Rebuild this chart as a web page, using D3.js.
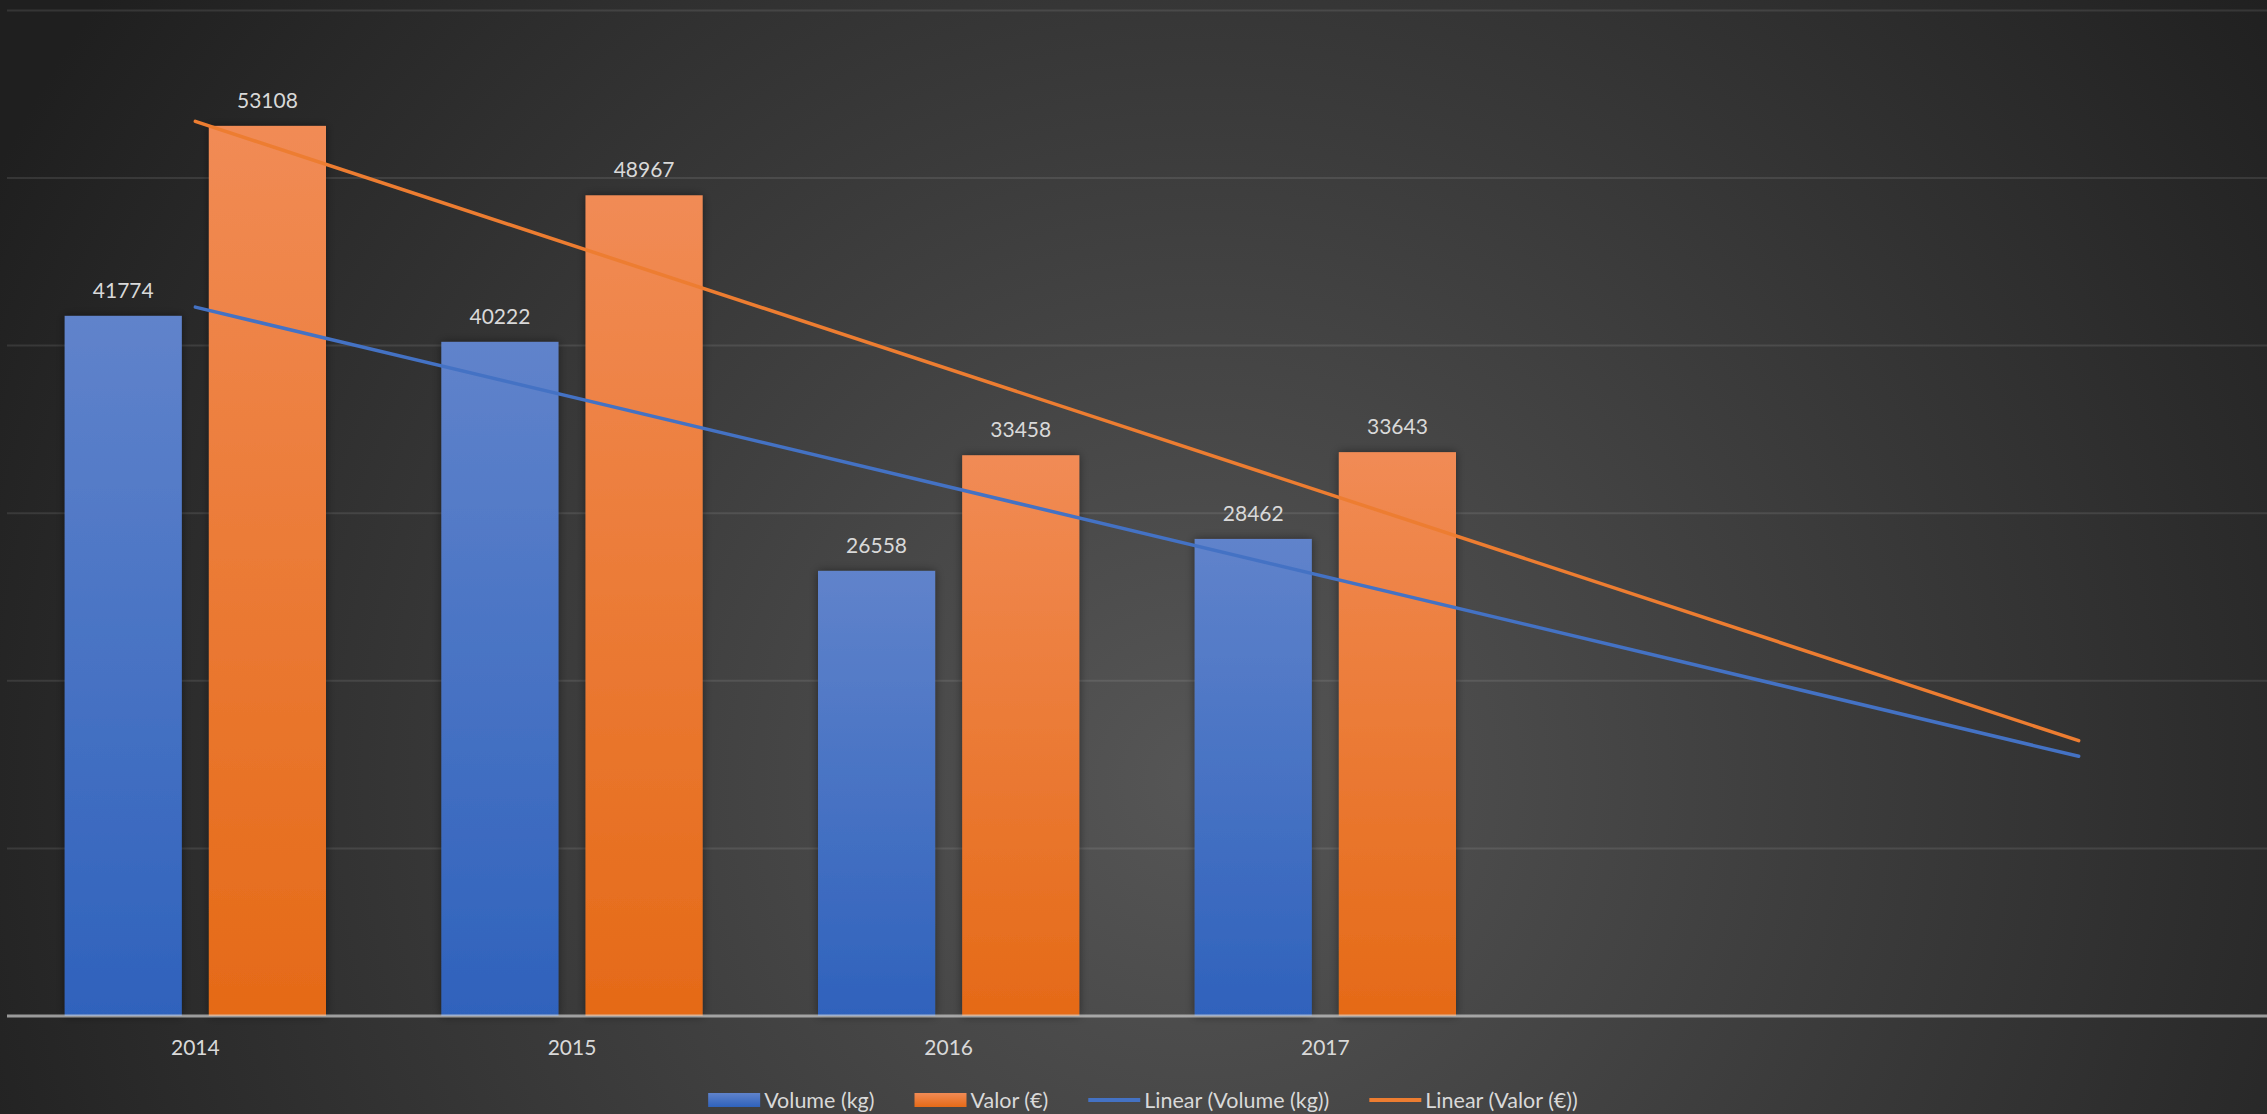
<!DOCTYPE html>
<html>
<head>
<meta charset="utf-8">
<script src="https://cdn.jsdelivr.net/npm/d3@7"></script>
<style>
  body { margin: 0; background: #262626; }
  svg { display: block; }
  text { font-family: Lato, "Open Sans", sans-serif; fill: #d9d9d9; }
</style>
</head>
<body>
<div id="chart"></div>
<script>
// data
const categories = ["2014", "2015", "2016", "2017"];
const volume = [41774, 40222, 26558, 28462];
const valor = [53108, 48967, 33458, 33643];
// linear trendlines, forecast forward 2 periods (start at 2014, end 2 slots after 2017)
const trendVolume = [42294, 15494];
const trendValor = [53380, 16428];
const yTicks = [0, 10000, 20000, 30000, 40000, 50000, 60000];
const seriesNames = ["Volume (kg)", "Valor (€)", "Linear (Volume (kg))", "Linear (Valor (€))"];

const width = 2267, height = 1114;
const slots = 6; // 4 years + 2 forecast slots on the axis

const svg = d3.select("#chart")
    .append("svg")
    .attr("width", width)
    .attr("height", height);

const defs = svg.append("defs");

// background radial gradient
let bg = defs.append("radialGradient")
    .attr("id", "bg")
    .attr("gradientUnits", "userSpaceOnUse")
    .attr("cx", 1200).attr("cy", 780).attr("r", 1350);
bg.append("stop").attr("offset", "0%").attr("stop-color", "#565656");
bg.append("stop").attr("offset", "100%").attr("stop-color", "#1f1f1f");

function barGradient(id, top, bottom) {
    let g = defs.append("linearGradient")
        .attr("id", id)
        .attr("x1", 0).attr("y1", 0).attr("x2", 0).attr("y2", 1);
    g.append("stop").attr("offset", "0%").attr("stop-color", top);
    g.append("stop").attr("offset", "100%").attr("stop-color", bottom);
}
barGradient("gBlue", "#6083cb", "#2f62bc");
barGradient("gOrange", "#f18b55", "#e56a17");

let shadow = defs.append("filter")
    .attr("id", "shadow")
    .attr("x", "-20%").attr("y", "-5%").attr("width", "140%").attr("height", "110%");
shadow.append("feDropShadow")
    .attr("dx", 0).attr("dy", 0)
    .attr("stdDeviation", 5)
    .attr("flood-color", "#000")
    .attr("flood-opacity", 0.45);

svg.append("rect")
    .attr("width", width).attr("height", height)
    .attr("fill", "url(#bg)");

// scales
const xScale = d3.scaleBand()
    .domain(d3.range(slots))
    .range([7, width]);

const xSub = d3.scaleBand()
    .domain(["volume", "valor"])
    .range([0, xScale.bandwidth()])
    .paddingInner(0.1875)
    .paddingOuter(0.4);

const yScale = d3.scaleLinear()
    .domain([0, 60000])
    .range([1016, 10.4]);

// gridlines
svg.append("g")
    .selectAll("line")
    .data(yTicks.slice(1))
    .enter()
    .append("line")
    .attr("x1", 7).attr("x2", width)
    .attr("y1", d => yScale(d)).attr("y2", d => yScale(d))
    .attr("stroke", "rgba(217,217,217,0.12)")
    .attr("stroke-width", 2);

// bars
const series = [
    { key: "volume", values: volume, fill: "url(#gBlue)" },
    { key: "valor", values: valor, fill: "url(#gOrange)" }
];

series.forEach(function (s) {
    svg.append("g")
        .selectAll("rect")
        .data(s.values)
        .enter()
        .append("rect")
        .attr("x", (d, i) => xScale(i) + xSub(s.key))
        .attr("y", d => yScale(d))
        .attr("width", xSub.bandwidth())
        .attr("height", d => yScale(0) - yScale(d))
        .attr("fill", s.fill)
        .attr("filter", "url(#shadow)");
});

// category axis
const xAxis = svg.append("g")
    .attr("transform", "translate(0," + yScale(0) + ")")
    .call(d3.axisBottom(xScale).tickSize(0).tickPadding(24)
        .tickFormat(i => categories[i] || ""));
xAxis.select(".domain").remove();
xAxis.selectAll("text")
    .style("font-size", "21px")
    .attr("fill", "#d9d9d9");

svg.append("line")
    .attr("x1", 7).attr("x2", width)
    .attr("y1", yScale(0)).attr("y2", yScale(0))
    .attr("stroke", "rgba(217,217,217,0.65)")
    .attr("stroke-width", 3);

// trendlines
const line = d3.line()
    .x(d => xScale(d[0]) + xScale.bandwidth() / 2)
    .y(d => yScale(d[1]));

[[trendVolume, "#4472c4"], [trendValor, "#ed7d31"]].forEach(function (t) {
    svg.append("path")
        .datum([[0, t[0][0]], [slots - 1, t[0][1]]])
        .attr("d", line)
        .attr("fill", "none")
        .attr("stroke", t[1])
        .attr("stroke-width", 3.5)
        .attr("stroke-linecap", "round");
});

// data labels
series.forEach(function (s) {
    svg.append("g")
        .selectAll("text")
        .data(s.values)
        .enter()
        .append("text")
        .attr("x", (d, i) => xScale(i) + xSub(s.key) + xSub.bandwidth() / 2)
        .attr("y", d => yScale(d) - 18)
        .attr("text-anchor", "middle")
        .style("font-size", "21px")
        .text(d => d);
});

// legend
const legend = svg.append("g");
let lx = 0;
const legendItems = [
    { name: seriesNames[0], type: "rect", fill: "url(#gBlue)" },
    { name: seriesNames[1], type: "rect", fill: "url(#gOrange)" },
    { name: seriesNames[2], type: "line", fill: "#4472c4" },
    { name: seriesNames[3], type: "line", fill: "#ed7d31" }
];
legendItems.forEach(function (d, i) {
    if (d.type === "rect") {
        legend.append("rect")
            .attr("x", lx).attr("y", -7)
            .attr("width", 52).attr("height", 14)
            .attr("fill", d.fill);
    } else {
        legend.append("line")
            .attr("x1", lx).attr("x2", lx + 52)
            .attr("y1", 0).attr("y2", 0)
            .attr("stroke", d.fill)
            .attr("stroke-width", 4);
    }
    let t = legend.append("text")
        .attr("x", lx + 56)
        .attr("y", 0)
        .attr("dy", "0.35em")
        .style("font-size", "21.5px")
        .text(d.name);
    lx += 56 + t.node().getComputedTextLength() + 40;
});
lx -= 40;
legend.attr("transform", "translate(" + (1143 - lx / 2) + ",1100)");
</script>
</body>
</html>
